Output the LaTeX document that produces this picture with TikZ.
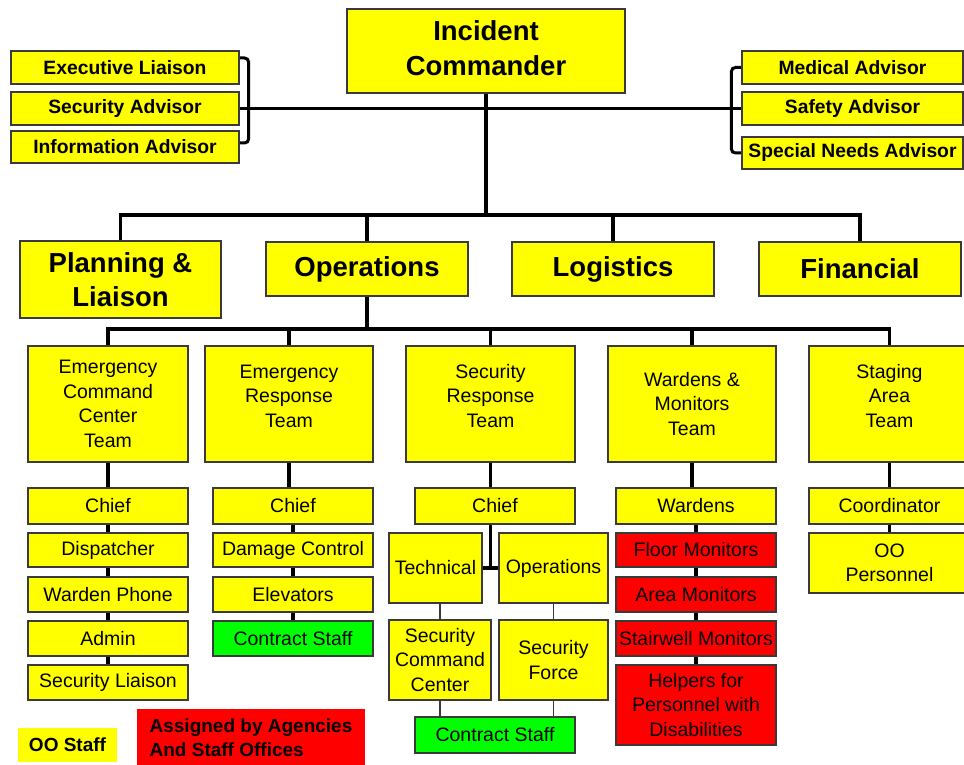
\documentclass[tikz,border=0pt]{standalone}
\usepackage{fontspec}
\setmainfont{Liberation Sans}
\usetikzlibrary{calc,backgrounds}
\definecolor{yel}{HTML}{FFFF00}
\definecolor{rd}{HTML}{FF0000}
\definecolor{gr}{HTML}{00FF00}
\definecolor{edgec}{HTML}{3A3A3A}
\newcommand\myReg{\fontsize{19.5}{24.5}\selectfont}
\newcommand\myBig{\fontsize{27.5}{34.5}\selectfont\bfseries}
\newcommand\myAdv{\fontsize{19.3}{22}\selectfont\bfseries}
\newcommand\myLeg{\fontsize{19}{24}\selectfont\bfseries}
\newcommand\mybox[7]{\node[#1,minimum width={(#5-#3)*1pt},minimum height={(#6-#4)*1pt}] (#2) at ({(#3+#5)/2},{(#4+#6)/2}) {#7};}
\tikzset{
  box/.style={rectangle,draw=edgec,line width=1.2pt,inner sep=0pt,align=center},
  ybox/.style={box,fill=yel,font=\myReg},
  rbox/.style={box,fill=rd,font=\myReg},
  gbox/.style={box,fill=gr,font=\myReg},
  bigbox/.style={box,fill=yel,font=\myBig},
  advbox/.style={box,fill=yel,font=\myAdv},
  txt/.style={inner sep=0pt,align=center,font=\myReg},
  conn/.style={line width=3.5pt,black},
  conn3/.style={line width=3pt,black},
  thinconn/.style={line width=1.2pt,edgec},
  brack/.style={line width=3pt,black,rounded corners=4pt},
}
\begin{document}
\begin{tikzpicture}[x=1pt,y=-1pt]
\useasboundingbox (0,0) rectangle (964,765);
% top level
\mybox{bigbox}{ic}{347}{9}{625}{93}{}
\node[inner sep=0pt,align=center,font=\myBig] (ict) at ([yshift=3pt]ic.center) {Incident\\Commander};
\mybox{advbox}{el}{11}{51}{239}{84}{Executive Liaison}
\mybox{advbox}{sa}{11}{92}{239}{125}{Security Advisor}
\mybox{advbox}{ia}{11}{131}{239}{163}{Information Advisor}
\mybox{advbox}{ma}{742}{51}{963}{84}{Medical Advisor}
\mybox{advbox}{sfa}{742}{92}{963}{125}{Safety Advisor}
\mybox{advbox}{sna}{742}{137}{963}{169}{Special Needs Advisor}
% sections
\mybox{bigbox}{pl}{20}{241}{221}{318}{Planning \&\\Liaison}
\mybox{bigbox}{ops}{266}{242}{468}{296}{Operations}
\mybox{bigbox}{log}{512}{242}{714}{296}{Logistics}
\mybox{bigbox}{fin}{759}{242}{961}{296}{Financial}
% teams
\mybox{ybox}{ecct}{28}{346}{188}{462}{Emergency\\Command\\Center\\Team}
\mybox{ybox}{ert}{205}{346}{373}{462}{}
\node[txt] (ertt) at ([yshift=8pt]ert.center) {Emergency\\Response\\Team};
\mybox{ybox}{srt}{406}{346}{575}{462}{}
\node[txt] (srtt) at ([yshift=8pt]srt.center) {Security\\Response\\Team};
\mybox{ybox}{wmt}{608}{346}{776}{462}{Wardens \&\\Monitors\\Team}
\mybox{ybox}{sat}{809}{346}{970}{462}{}
\node[txt] (satt) at ([yshift=8pt]sat.center) {Staging\\Area\\Team};
% chiefs
\mybox{ybox}{ecch}{28}{488}{188}{524}{Chief}
\mybox{ybox}{erch}{213}{488}{373}{524}{Chief}
\mybox{ybox}{srch}{415}{488}{575}{524}{Chief}
\mybox{ybox}{ward}{616}{488}{776}{524}{Wardens}
\mybox{ybox}{coord}{809}{488}{970}{524}{Coordinator}
% column 1
\mybox{ybox}{disp}{28}{533}{188}{567}{Dispatcher}
\mybox{ybox}{wph}{28}{577}{188}{612}{Warden Phone}
\mybox{ybox}{adm}{28}{621}{188}{656}{Admin}
\mybox{ybox}{secl}{28}{665}{188}{700}{Security Liaison}
% column 2
\mybox{ybox}{dc}{213}{533}{373}{567}{Damage Control}
\mybox{ybox}{elev}{213}{577}{373}{612}{Elevators}
\mybox{gbox}{csa}{213}{621}{373}{656}{Contract Staff}
% column 3
\mybox{ybox}{tech}{389}{533}{482}{603}{Technical}
\mybox{ybox}{opsb}{499}{533}{608}{603}{Operations}
\mybox{ybox}{scc}{389}{620}{491}{700}{Security\\Command\\Center}
\mybox{ybox}{sf}{499}{620}{608}{700}{Security\\Force}
\mybox{gbox}{csb}{415}{717}{575}{753}{Contract Staff}
% column 4
\mybox{rbox}{fm}{616}{533}{776}{567}{Floor Monitors}
\mybox{rbox}{am}{616}{577}{776}{612}{Area Monitors}
\mybox{rbox}{sm}{616}{621}{776}{656}{Stairwell Monitors}
\mybox{rbox}{help}{616}{665}{776}{745}{Helpers for\\Personnel with\\Disabilities}
% column 5
\mybox{ybox}{oop}{809}{533}{970}{593}{OO\\Personnel}
% legend
\mybox{box,draw=none,fill=yel,font=\myLeg}{legy}{18}{728}{117}{762}{OO Staff}
\mybox{box,draw=none,fill=rd,font=\myLeg,align=left}{legr}{137}{709}{365}{767}{Assigned by Agencies\\And Staff Offices}
% connectors
\coordinate (b1) at (490,215);
\coordinate (b2) at (364,329);
\coordinate (sj) at ($(tech.east)!.5!(opsb.west)$);
\begin{scope}[on background layer]
\draw[brack] ([yshift=9.5pt]el.east) -- ++(9,0) |- ([yshift=4pt]ia.east);
\draw[brack] (ma.west) -- ++(-10,0) |- (sna.west);
\draw[conn3] (sa.east) -- (sfa.west);
\draw[conn] (ic.south) -- (ic.south |- b1);
\draw[conn] (pl.north) |- (b1) -| (fin.north);
\draw[conn] (ops.north) -- (ops.north |- b1);
\draw[conn] (log.north) -- (log.north |- b1);
\draw[conn] (ops.south) -- (ops.south |- b2);
\draw[conn] (ecct.north) |- (b2) -| (sat.north);
\draw[conn] (ert.north) -- (ert.north |- b2);
\draw[conn] (srt.north) -- (srt.north |- b2);
\draw[conn] (wmt.north) -- (wmt.north |- b2);
\draw[conn] (ecct.south) -- (ecch.north);
\draw[conn] (ert.south) -- (ert.south |- erch.north);
\draw[conn] (srt.south) -- (srt.south |- srch.north);
\draw[conn] (wmt.south) -- (wmt.south |- ward.north);
\draw[conn] (sat.south) -- (coord.north);
\draw[conn] (ecch.south) -- (disp.north);
\draw[conn] (disp.south) -- (wph.north);
\draw[conn] (wph.south) -- (adm.north);
\draw[conn] (adm.south) -- (secl.north);
\draw[conn] (erch.south) -- (dc.north);
\draw[conn] (dc.south) -- (elev.north);
\draw[conn] (elev.south) -- (csa.north);
\draw[conn] (srch.south -| sj) -- (sj);
\draw[conn] (tech.east) -- (opsb.west);
\draw[thinconn] (scc.north) -- (scc.north |- tech.south);
\draw[thinconn] (sf.north) -- (sf.north |- opsb.south);
\draw[thinconn] (scc.south) -- (scc.south |- csb.north);
\draw[thinconn] (sf.south) -- (sf.south |- csb.north);
\draw[conn] (ward.south) -- (fm.north);
\draw[conn] (fm.south) -- (am.north);
\draw[conn] (am.south) -- (sm.north);
\draw[conn] (sm.south) -- (help.north);
\draw[conn] (coord.south) -- (oop.north);
\end{scope}
\end{tikzpicture}
\end{document}
